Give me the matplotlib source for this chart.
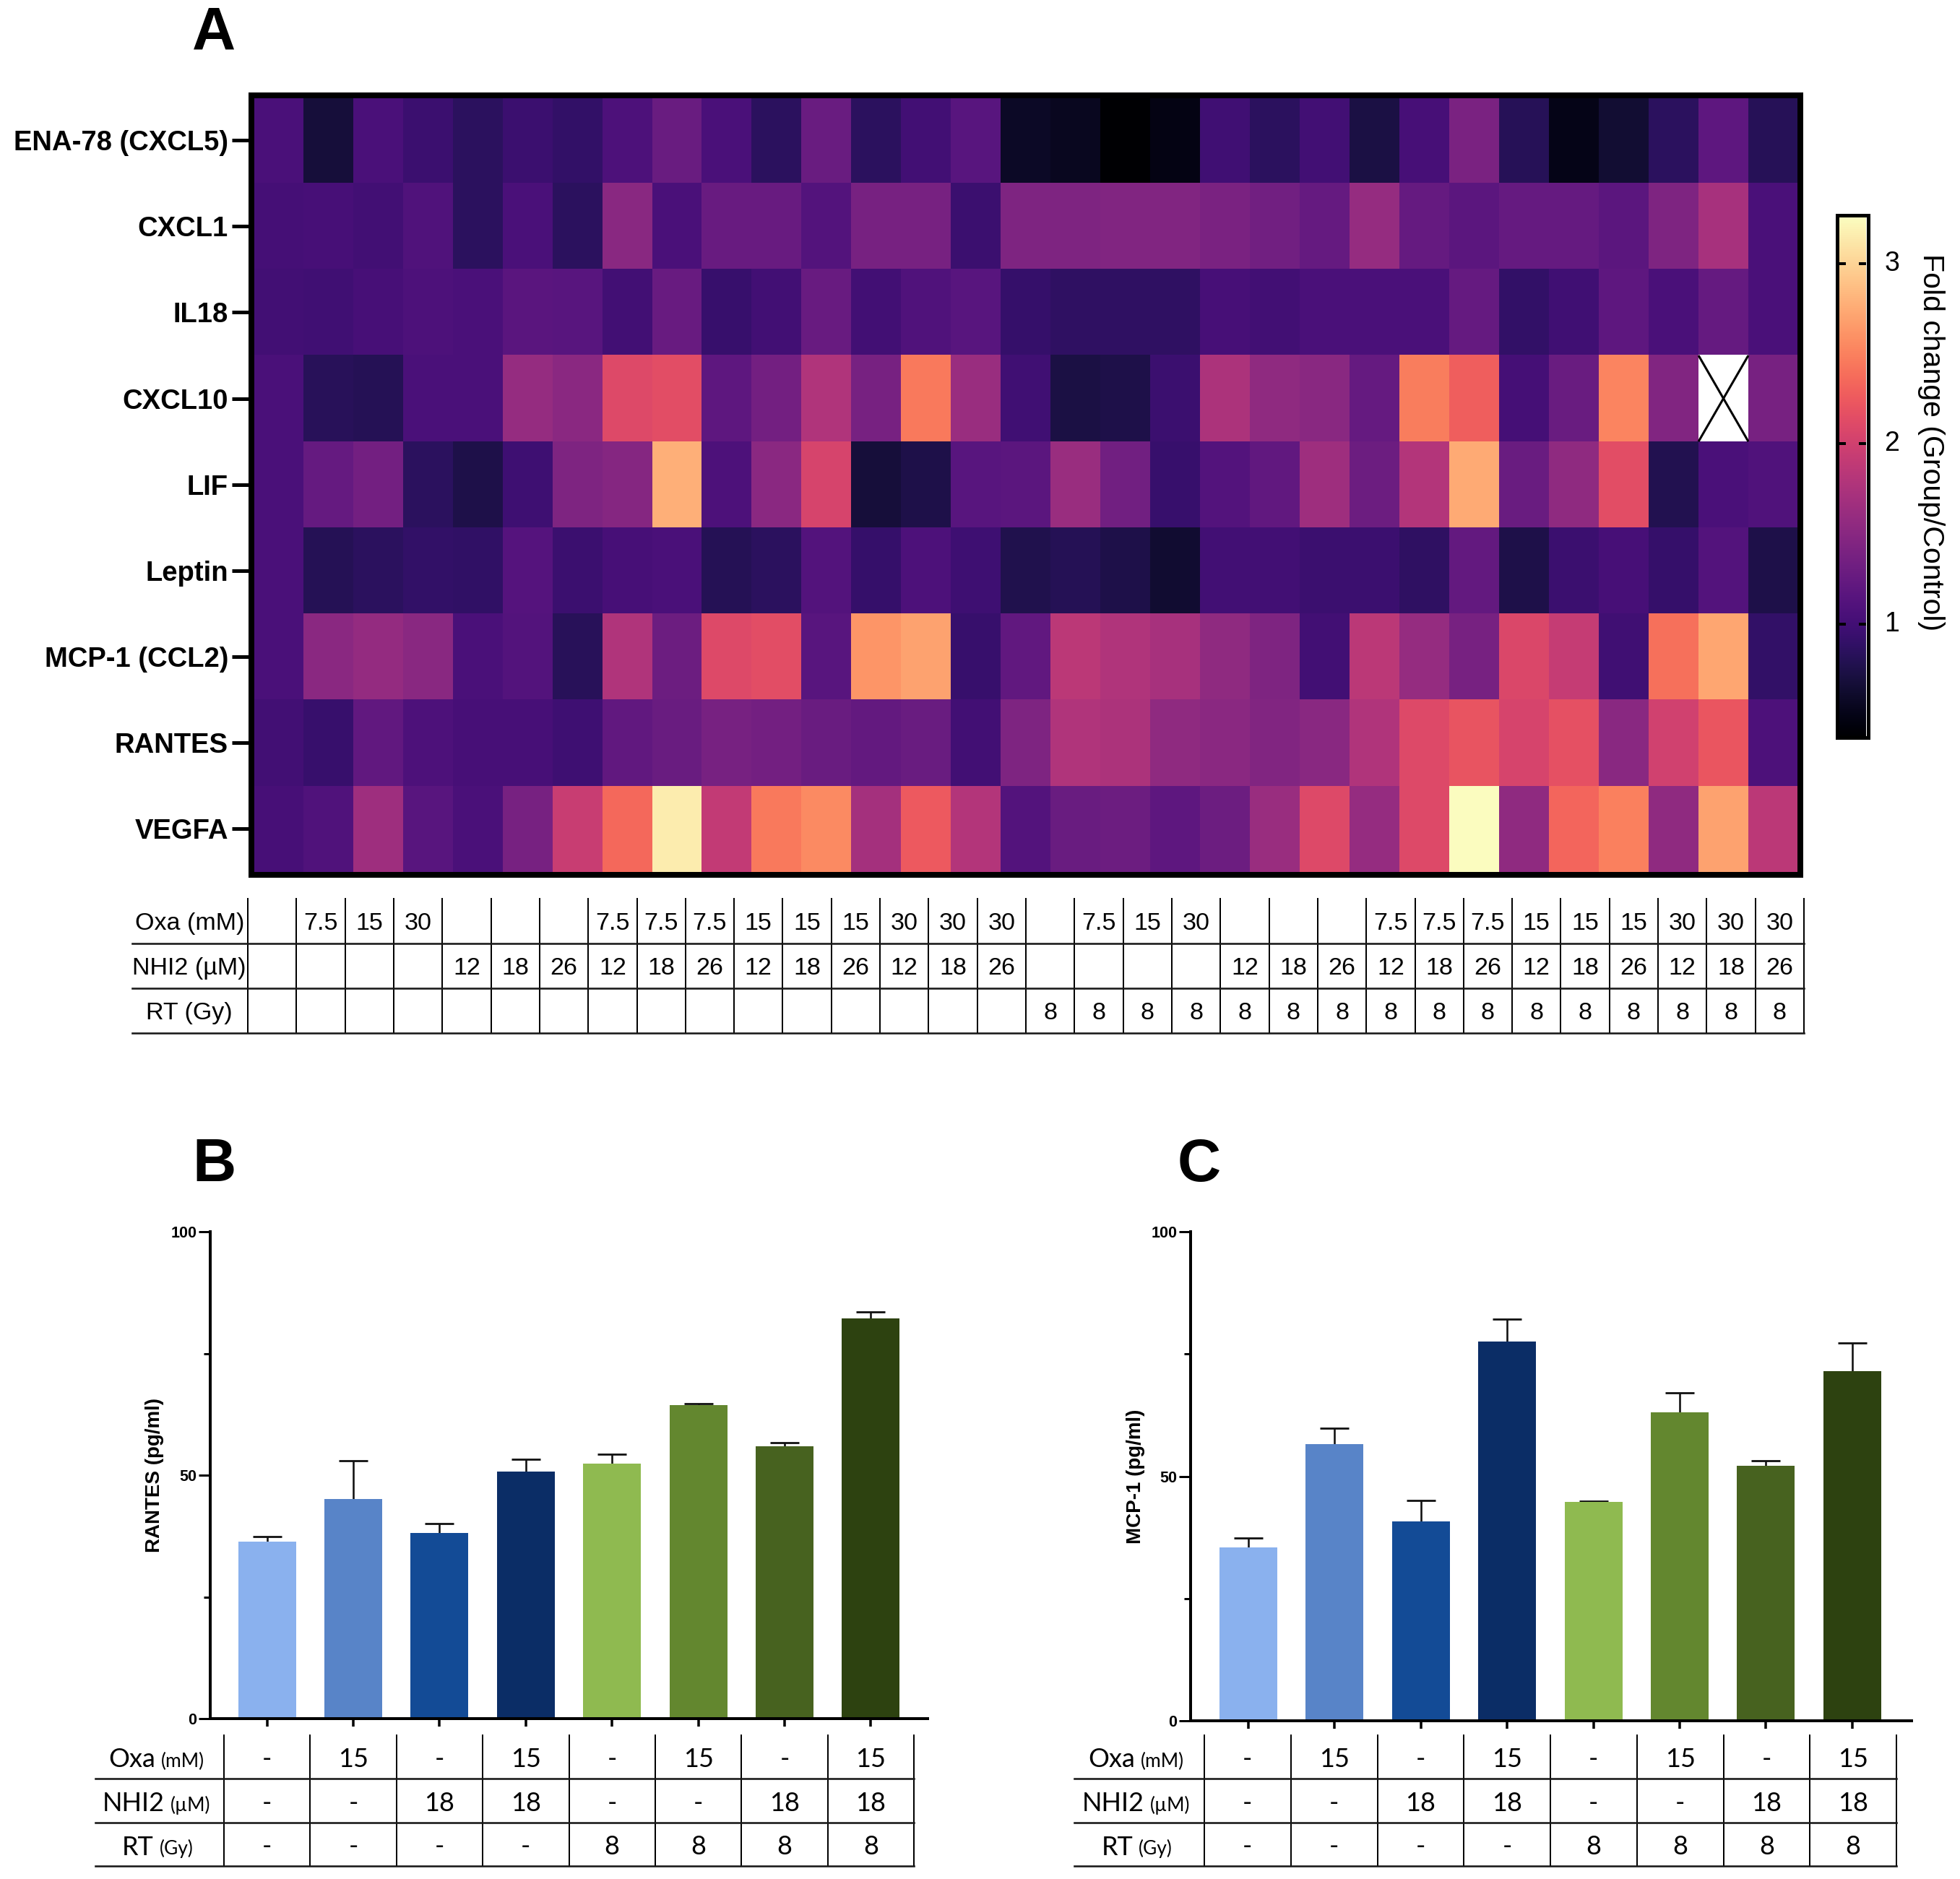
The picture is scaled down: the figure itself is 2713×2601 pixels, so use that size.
import numpy as np
import matplotlib
matplotlib.use("Agg")
import matplotlib.pyplot as plt
from matplotlib.patches import Rectangle

W, H = 2713, 2601
DPI = 100
PX = 72 / DPI

genes = ["ENA-78 (CXCL5)", "CXCL1", "IL18", "CXCL10", "LIF", "Leptin", "MCP-1 (CCL2)", "RANTES", "VEGFA"]
ena78 = [1.05,.68,1.05,.95,.85,.95,.9,1.08,1.28,1.05,.85,1.28,.85,1.0,1.15,.58,.55,.37,.48,.98,.85,1.0,.72,1.03,1.4,.82,.5,.65,.85,1.2,.82]
cxcl1 = [1.02,1.03,1.0,1.1,.85,1.05,.85,1.5,1.05,1.27,1.27,1.12,1.38,1.38,.95,1.42,1.42,1.45,1.45,1.4,1.33,1.25,1.6,1.25,1.18,1.25,1.25,1.18,1.42,1.72,1.05]
il18 = [1.0,.98,1.03,1.07,1.05,1.17,1.15,1.0,1.27,.93,1.0,1.27,1.0,1.1,1.15,.92,.87,.87,.87,1.03,1.0,1.05,1.05,1.05,1.25,.9,.98,1.2,1.05,1.25,1.05]
cxcl10 = [1.05,.83,.8,1.05,1.05,1.6,1.52,2.1,2.15,1.2,1.35,1.78,1.38,2.45,1.62,.98,.72,.75,.95,1.75,1.55,1.5,1.25,2.48,2.28,1.02,1.28,2.52,1.45,np.nan,1.38]
lif = [1.05,1.25,1.35,.85,.75,.97,1.42,1.48,2.78,1.07,1.52,2.05,.68,.75,1.15,1.18,1.62,1.33,.93,1.12,1.22,1.65,1.3,1.8,2.75,1.28,1.55,2.15,.78,1.05,1.1]
leptin = [1.05,.8,.85,.9,.88,1.13,.95,1.03,1.05,.8,.85,1.12,.92,1.07,.97,.77,.8,.75,.63,1.0,1.0,.95,.95,.87,1.23,.75,.95,1.03,.92,1.12,.75]
mcp1 = [1.05,1.52,1.58,1.5,1.05,1.12,.83,1.78,1.3,2.1,2.15,1.15,2.62,2.7,.93,1.22,1.85,1.78,1.72,1.55,1.42,1.0,1.85,1.6,1.38,2.08,1.92,.98,2.4,2.72,.9]
rantes = [1.0,.93,1.22,1.08,1.03,1.03,.97,1.22,1.28,1.38,1.35,1.28,1.23,1.28,1.0,1.42,1.78,1.75,1.55,1.52,1.45,1.5,1.78,2.1,2.2,2.05,2.17,1.5,2.0,2.22,1.08]
vegfa = [1.03,1.1,1.65,1.15,1.05,1.38,1.95,2.35,3.15,1.9,2.45,2.55,1.7,2.25,1.8,1.12,1.28,1.3,1.2,1.3,1.62,2.1,1.6,2.1,3.26,1.55,2.33,2.5,1.55,2.7,1.85]

vmin, vmax = 0.37, 3.26

top_oxa = ["", "7.5", "15", "30", "", "", "", "7.5", "7.5", "7.5", "15", "15", "15", "30", "30", "30"] * 2
top_nhi = ["", "", "", "", "12", "18", "26", "12", "18", "26", "12", "18", "26", "12", "18", "26"] * 2
top_rt = [""] * 16 + ["8"] * 16

bar_oxa = ["-", "15", "-", "15", "-", "15", "-", "15"]
bar_nhi = ["-", "-", "18", "18", "-", "-", "18", "18"]
bar_rt = ["-", "-", "-", "-", "8", "8", "8", "8"]
bar_cols = ["#8ab1ee", "#5884c8", "#134b96", "#0b2d66", "#8fba50", "#63872f", "#47621f", "#2d4210"]

rantes_mean = [36.4, 45.1, 38.1, 50.8, 52.4, 64.4, 56.0, 82.2]
rantes_err = [1.0, 7.8, 1.9, 2.4, 1.9, 0.3, 0.7, 1.3]
mcp_mean = [35.5, 56.6, 40.7, 77.6, 44.7, 63.0, 52.1, 71.5]
mcp_err = [1.8, 3.2, 4.4, 4.6, 0.2, 4.1, 1.1, 5.7]

fig = plt.figure(figsize=(W / DPI, H / DPI), dpi=DPI, facecolor="white")
SANS = "Liberation Sans"
CAL = "Lato"


def axpx(x0, y0, x1, y1, **kw):
    return fig.add_axes([x0 / W, 1 - y1 / H, (x1 - x0) / W, (y1 - y0) / H], **kw)


def ftext(x, y, s, **kw):
    return fig.text(x / W, 1 - y / H, s, **kw)


def frame(x0, y0, x1, y1, lw):
    fig.add_artist(Rectangle((x0 / W, 1 - y1 / H), (x1 - x0) / W, (y1 - y0) / H, transform=fig.transFigure,
                             fill=False, ec="black", lw=lw * PX, joinstyle="miter"))


# ---- heatmap
cmap = plt.get_cmap("magma").copy()
cmap.set_bad("white")
data = np.array([ena78, cxcl1, il18, cxcl10, lif, leptin, mcp1, rantes, vegfa])
ax = axpx(351, 134.5, 2489, 1207)
im = ax.imshow(data, aspect="auto", cmap=cmap, vmin=vmin, vmax=vmax, interpolation="nearest")
for r, c in np.argwhere(np.isnan(data)):
    ax.plot([c - .5, c + .5], [r - .5, r + .5], color="black", lw=2.2, solid_capstyle="butt")
    ax.plot([c - .5, c + .5], [r + .5, r - .5], color="black", lw=2.2, solid_capstyle="butt")
ax.set_xlim(-.5, data.shape[1] - .5)
ax.set_ylim(data.shape[0] - .5, -.5)
ax.set_xticks([])
ax.set_yticks(range(len(genes)))
ax.set_yticklabels(genes, fontfamily=SANS, fontweight="bold", fontsize=27.5)
ax.tick_params(axis="y", length=30 * PX, width=5 * PX, pad=5 * PX)
for s in ax.spines.values():
    s.set_visible(False)
frame(347.5, 131.8, 2491.5, 1211, 8)

# ---- colourbar
cax = axpx(2545, 300, 2583, 1021)
grad = np.linspace(vmax, vmin, 512).reshape(-1, 1)
cax.imshow(grad, aspect="auto", cmap=cmap, vmin=vmin, vmax=vmax, extent=[0, 1, vmin, vmax])
cax.set_xticks([])
cax.set_yticks([])
for v in [1, 2, 3]:
    cax.plot([0, .26], [v, v], color="black", lw=4 * PX, solid_capstyle="butt")
    cax.plot([.74, 1], [v, v], color="black", lw=4 * PX, solid_capstyle="butt")
    cax.annotate(str(v), (1, v), xycoords=("axes fraction", "data"), xytext=(36 * PX, 0), textcoords="offset points",
                 ha="center", va="center", fontfamily=SANS, fontsize=27, annotation_clip=False)
cax.set_ylim(vmin, vmax)
cax.set_xlim(0, 1)
for s in cax.spines.values():
    s.set_visible(False)
frame(2542.5, 298, 2585.5, 1021, 5)
ftext(2673, 612, "Fold change (Group/Control)", rotation=270, ha="center", va="center", fontfamily=SANS, fontsize=29.5)


# ---- condition tables
def table(x0, x1, y0, ys, left, rows, fam, size, dy):
    n = len(rows[0])
    t = axpx(x0, y0, x1, ys[-1])
    t.set_xlim(0, n)
    t.set_ylim(len(rows), 0)
    t.axis("off")
    lx = (left - x0) / (x1 - x0) * n
    for i in range(n + 1):
        t.plot([i, i], [0, len(rows)], color="black", lw=2 * PX, clip_on=False)
    for j in range(len(rows)):
        t.plot([lx, n], [j + 1, j + 1], color="#1a1a1a", lw=2.6 * PX, clip_on=False)
        for i, s in enumerate(rows[j]):
            if s:
                t.text(i + .5, j + .5 + dy, s, ha="center", va="center", fontfamily=fam, fontsize=size)
    return t


t = table(343, 2497, 1244, [1307, 1368, 1430], 183, [top_oxa, top_nhi, top_rt], SANS, 24.5, .06)
for j, s in enumerate(["Oxa (mM)", "NHI2 (\u00b5M)", "RT (Gy)"]):
    t.text(-1.2, j + .56, s, ha="center", va="center", fontfamily=SANS, fontsize=24.5)


def bar_panel(ax_box, mean, err, ylabel, ylab_xy, tbl_x, first_tick, tbl_left, split):
    x0, y0, x1, y1 = ax_box
    a = axpx(x0, y0, x1, y1)
    xs = np.arange(len(mean))
    mean = np.array(mean)
    err = np.array(err)
    a.bar(xs, mean, width=80 / 119.4, color=bar_cols, edgecolor="none", zorder=2)
    tops = mean + err
    a.vlines(xs, mean, tops, color="#111111", lw=2.6 * PX, zorder=1)
    a.plot(xs, tops, linestyle="none", marker="_", color="#111111", markersize=40 * PX, markeredgewidth=2.8 * PX, zorder=1)
    u = 119.4
    a.set_xlim(-(first_tick - x0) / u, (x1 - first_tick) / u)
    a.set_ylim(0, 100)
    a.set_yticks([0, 50, 100])
    a.set_yticks([25, 75], minor=True)
    a.set_yticklabels(["0", "50", "100"], fontfamily=SANS, fontweight="bold", fontsize=15.5)
    a.set_xticks(xs)
    a.set_xticklabels([])
    a.tick_params(axis="y", which="major", length=16 * PX, width=3 * PX, pad=2)
    a.tick_params(axis="y", which="minor", length=9 * PX, width=3 * PX)
    a.tick_params(axis="x", length=11 * PX, width=3.5 * PX)
    a.spines["top"].set_visible(False)
    a.spines["right"].set_visible(False)
    a.spines["left"].set_linewidth(4 * PX)
    a.spines["bottom"].set_linewidth(4 * PX)
    ftext(ylab_xy[0], ylab_xy[1], ylabel, rotation=90, ha="center", va="center", fontfamily=SANS, fontweight="bold",
          fontsize=20)
    table(tbl_x[0], tbl_x[1], 2402, [2462, 2522.5, 2583], tbl_left, [bar_oxa, bar_nhi, bar_rt], CAL, 26, .06)
    for j, (main, unit) in enumerate([("Oxa", "(mM)"), ("NHI2", "(\u00b5M)"), ("RT", "(Gy)")]):
        yc = 2436 + j * 60.5
        ftext(split[j] - 4, yc, main, ha="right", va="center", fontfamily=CAL, fontsize=26)
        ftext(split[j] + 4, yc + 2, unit, ha="left", va="center", fontfamily=CAL, fontsize=19)


bar_panel((291, 1705, 1284, 2379), rantes_mean, rantes_err, "RANTES (pg/ml)", (214, 2042), (310, 1265), 369.5, 132, (219, 232, 217))
bar_panel((1648, 1705, 2646, 2382), mcp_mean, mcp_err, "MCP-1 (pg/ml)", (1572, 2044), (1667, 2625), 1728, 1487, (1575, 1588, 1572))

# ---- panel letters
for s, x, y in [("A", 296, 47), ("B", 297, 1613), ("C", 1660, 1613)]:
    ftext(x, y, s, ha="center", va="center", fontfamily=SANS, fontweight="bold", fontsize=60)

fig.savefig("out.png", dpi=DPI)
